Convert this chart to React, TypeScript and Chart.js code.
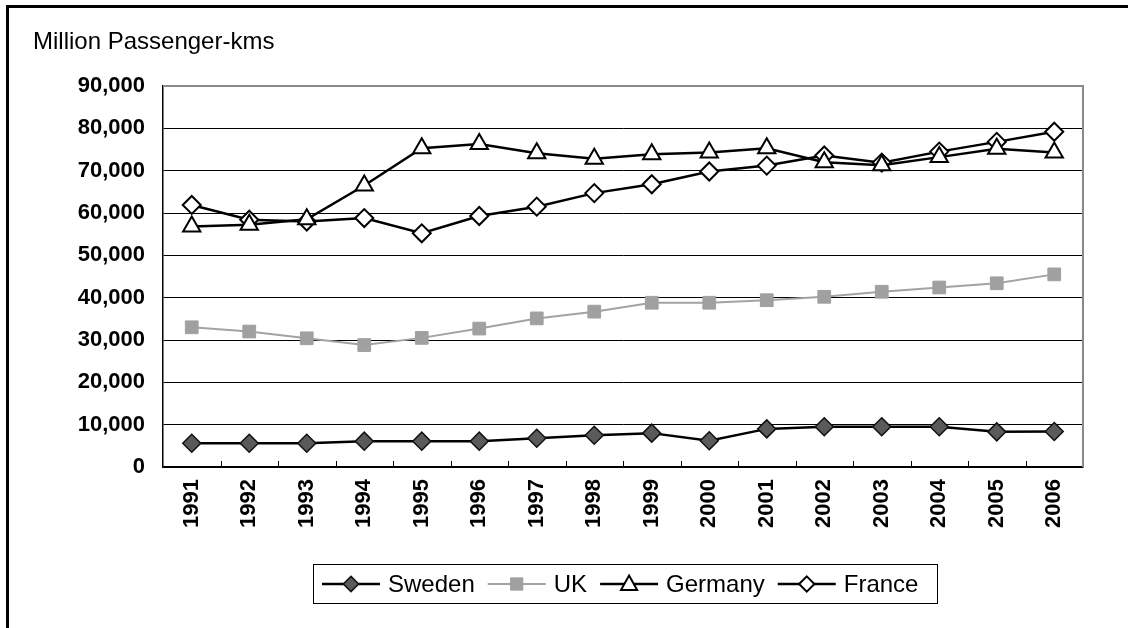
import React, { useEffect, useRef } from "react";
import { Chart, registerables } from "chart.js";

Chart.register(...registerables);

const years = ["1991","1992","1993","1994","1995","1996","1997","1998","1999","2000","2001","2002","2003","2004","2005","2006"];
const sweden = [5600,5600,5600,6100,6100,6100,6800,7500,8000,6200,9000,9500,9500,9500,8300,8400];
const uk = [33000,32000,30400,28800,30500,32700,35100,36700,38800,38800,39400,40200,41400,42400,43400,45500];
const germany = [56800,57200,58500,66500,75300,76300,74100,72800,73900,74300,75300,72000,71300,73200,75200,74300];
const france = [61900,58400,58000,58800,55200,59300,61500,64700,66800,69800,71200,73600,71900,74500,76800,79200];
const yTicks = [0,10000,20000,30000,40000,50000,60000,70000,80000,90000];
const titleText = "Million Passenger-kms";
const seriesNames = ["Sweden","UK","Germany","France"];

const FONT = "'Liberation Sans', Arial, sans-serif";

function drawMarker(ctx: CanvasRenderingContext2D, style: string, x: number, y: number, r: number, fill: string, stroke: string, lw: number) {
  ctx.save();
  ctx.beginPath();
  if (style === "rectRot") {
    ctx.moveTo(x, y - r); ctx.lineTo(x + r, y); ctx.lineTo(x, y + r); ctx.lineTo(x - r, y); ctx.closePath();
  } else if (style === "rect") {
    const s = r * 0.8;
    ctx.rect(x - s, y - s, 2 * s, 2 * s);
  } else {
    const h = r;
    ctx.moveTo(x, y - h); ctx.lineTo(x + h * 0.95, y + h * 0.7); ctx.lineTo(x - h * 0.95, y + h * 0.7); ctx.closePath();
  }
  ctx.fillStyle = fill; ctx.fill();
  ctx.lineWidth = lw; ctx.strokeStyle = stroke; ctx.stroke();
  ctx.restore();
}

const decorPlugin = {
  id: "decor",
  beforeDraw(chart: any) {
    const ctx = chart.ctx as CanvasRenderingContext2D;
    ctx.save();
    ctx.fillStyle = "#fff";
    ctx.fillRect(0, 0, chart.width, chart.height);
    ctx.fillStyle = "#000";
    ctx.fillRect(6, 5, 3, chart.height - 5);
    ctx.fillRect(6, 5, chart.width - 6, 3);
    ctx.font = `24px ${FONT}`;
    ctx.textBaseline = "middle";
    ctx.fillText(titleText, 33, 42);
    ctx.restore();
  },
  afterDatasetsDraw(chart: any) {
    const ctx = chart.ctx as CanvasRenderingContext2D;
    const a = chart.chartArea;
    ctx.save();
    ctx.strokeStyle = "#8a8a8a";
    ctx.lineWidth = 2;
    ctx.beginPath();
    ctx.moveTo(a.left, a.top); ctx.lineTo(a.right, a.top); ctx.lineTo(a.right, a.bottom);
    ctx.stroke();
    ctx.strokeStyle = "#000";
    ctx.lineWidth = 1;
    const n = years.length;
    const w = (a.right - a.left) / n;
    ctx.beginPath();
    for (let i = 1; i < n; i++) {
      const x = Math.round(a.left + i * w) + 0.5;
      ctx.moveTo(x, a.bottom); ctx.lineTo(x, a.bottom - 6);
    }
    ctx.stroke();
    ctx.restore();
  },
  afterDraw(chart: any) {
    const ctx = chart.ctx as CanvasRenderingContext2D;
    ctx.save();
    ctx.strokeStyle = "#000";
    ctx.lineWidth = 1;
    ctx.strokeRect(313.5, 564.5, 624, 39);
    ctx.font = `24px ${FONT}`;
    ctx.textBaseline = "middle";
    let x = 322;
    const y = 584;
    chart.data.datasets.forEach((ds: any) => {
      ctx.save();
      ctx.strokeStyle = ds.borderColor;
      ctx.lineWidth = ds.borderWidth;
      ctx.beginPath(); ctx.moveTo(x, y); ctx.lineTo(x + 58, y); ctx.stroke();
      ctx.restore();
      drawMarker(ctx, ds.pointStyle, x + 29, y, ds.pointRadius * 0.85, ds.pointBackgroundColor, ds.pointBorderColor, ds.pointBorderWidth);
      ctx.fillStyle = "#000";
      ctx.fillText(ds.label, x + 66, y + 1);
      x = x + 66 + ctx.measureText(ds.label).width + 13;
    });
    ctx.restore();
  },
};

export default function App() {
  const ref = useRef<HTMLCanvasElement | null>(null);
  useEffect(() => {
    if (!ref.current) return;
    const chart = new Chart(ref.current, {
      type: "line",
      data: {
        labels: years,
        datasets: [
          {
            label: seriesNames[0], data: sweden,
            borderColor: "#000", borderWidth: 2.5,
            pointStyle: "rectRot", pointRadius: 9, pointBackgroundColor: "#5a5a5a", pointBorderColor: "#111", pointBorderWidth: 1.5,
          },
          {
            label: seriesNames[1], data: uk,
            borderColor: "#a3a3a3", borderWidth: 2,
            pointStyle: "rect", pointRadius: 9, pointBackgroundColor: "#a0a0a0", pointBorderColor: "#a0a0a0", pointBorderWidth: 1,
          },
          {
            label: seriesNames[2], data: germany,
            borderColor: "#000", borderWidth: 2.5,
            pointStyle: "triangle", pointRadius: 10, pointBackgroundColor: "#fff", pointBorderColor: "#000", pointBorderWidth: 2,
          },
          {
            label: seriesNames[3], data: france,
            borderColor: "#000", borderWidth: 2.5,
            pointStyle: "rectRot", pointRadius: 9, pointBackgroundColor: "#fff", pointBorderColor: "#000", pointBorderWidth: 2,
          },
        ],
      },
      options: {
        responsive: false,
        animation: false,
        devicePixelRatio: 1,
        layout: { padding: { left: 0, top: 86, right: 45, bottom: 0 } },
        plugins: { legend: { display: false }, title: { display: false }, tooltip: { enabled: false } },
        elements: { line: { tension: 0 } },
        scales: {
          x: {
            offset: true,
            grid: { display: false, drawTicks: false },
            border: { display: true, color: "#000", width: 1.5 },
            ticks: {
              minRotation: 90, maxRotation: 90, padding: 12, color: "#000",
              font: { family: FONT, size: 22, weight: "bold" },
            },
            afterFit: (s: any) => { s.height = 161; },
          },
          y: {
            min: 0, max: 90000,
            afterBuildTicks: (s: any) => { s.ticks = yTicks.map((v) => ({ value: v })); },
            grid: {
              drawTicks: false,
              color: (c: any) => (c.tick && c.tick.value === 90000 ? "rgba(0,0,0,0)" : "#000"),
              lineWidth: 1,
            },
            border: { display: true, color: "#000", width: 1.5 },
            ticks: {
              padding: 18, color: "#000",
              font: { family: FONT, size: 22, weight: "bold" },
              callback: (v: any) => Number(v).toLocaleString("en-US"),
            },
            afterFit: (s: any) => { s.width = 163; },
          },
        },
      },
      plugins: [decorPlugin],
    } as any);
    return () => chart.destroy();
  }, []);
  return (
    <div style={{ position: "absolute", left: 0, top: 0, width: 1128, height: 628, background: "#fff" }}>
      <canvas ref={ref} width={1128} height={628} style={{ width: 1128, height: 628, display: "block" }} />
    </div>
  );
}
